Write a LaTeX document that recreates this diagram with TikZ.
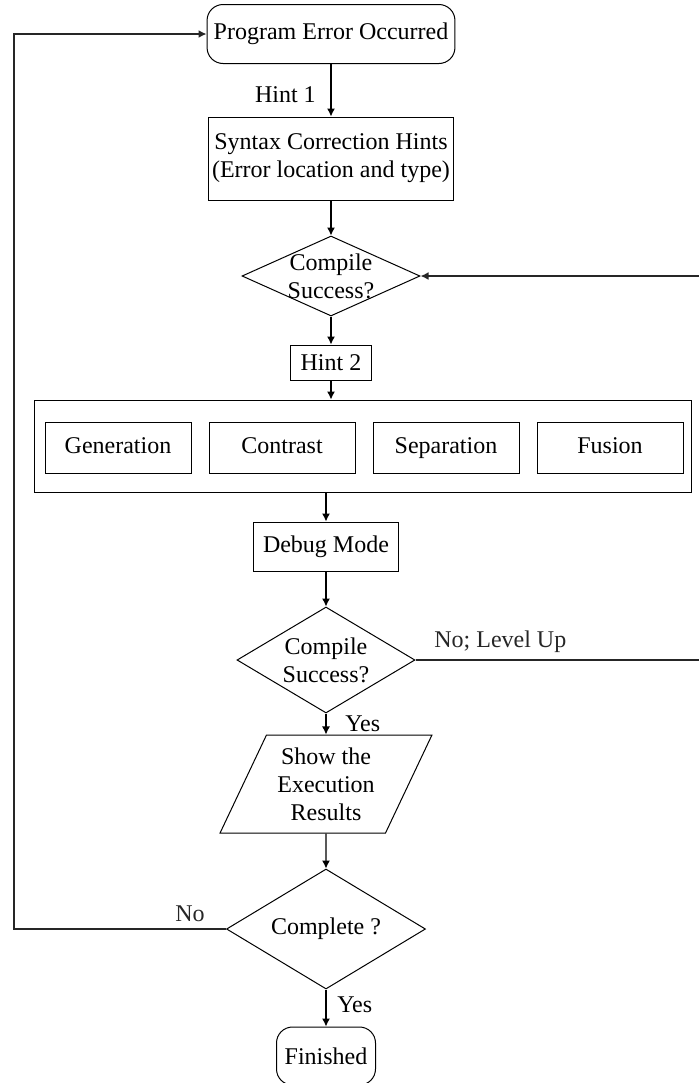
\documentclass[tikz,border=0pt]{standalone}
\usepackage{fontspec}
\setmainfont{Liberation Serif}
\usetikzlibrary{arrows.meta,positioning,shapes.geometric,calc}

\begin{document}
\begin{tikzpicture}[x=0.5pt, y=-0.5pt, line width=0.5pt,
  every node/.style={font=\fontsize{12}{14}\selectfont},
  term/.style={draw, rounded corners=8pt, align=center},
  box/.style={draw, align=center, inner sep=2pt},
  part/.style={box, minimum width=73pt, minimum height=25.5pt, text height=8pt, text depth=2.5pt},
  decide/.style={draw, diamond, inner sep=-8pt, align=center},
  io/.style={draw, trapezium, trapezium left angle=63.4, trapezium right angle=116.6, trapezium stretches=true, align=center},
  flow/.style={-{Latex[length=4pt,width=4pt]}, line width=0.6pt},
  backline/.style={-{Latex[length=4pt,width=4pt]}, line width=0.8pt, black!85}]
\useasboundingbox (0,0) rectangle (699,1083);

\node[term, minimum width=119.5pt, minimum height=29.5pt] (start) at (331,34) {Program Error Occurred};
\node[box, minimum width=122.5pt, minimum height=41.5pt] (hints) at (331,158.5) {Syntax Correction Hints\\(Error location and type)};
\node[decide, minimum width=89pt, minimum height=40pt] (dia1) at (331,276) {Compile\\Success?};
\node[box, minimum width=40.5pt, minimum height=17.5pt] (hint2) at (331,362.5) {Hint 2};

% strategy group
\node[draw, minimum width=328.5pt, minimum height=46pt] (frame) at (362.5,446) {};
\node[part] (gen) at (118,447.5) {Generation};
\node[part] (con) at (282,447.5) {Contrast};
\node[part] (sep) at (446,447.5) {Separation};
\node[part] (fus) at (610,447.5) {Fusion};

\node[box, minimum width=72.5pt, minimum height=24.5pt] (debug) at (326,546.5) {Debug Mode};
\node[decide, minimum width=89pt, minimum height=53pt] (dia2) at (326,660) {Compile\\Success?};
\node[io, minimum width=106.5pt, minimum height=49pt] (res) at (326,784) {Show the\\Execution\\Results};
\node[decide, minimum width=99.5pt, minimum height=60pt] (dia3) at (326,929) {Complete ?};
\node[term, minimum width=49.5pt, minimum height=29pt] (fin) at (326,1056) {Finished};

\coordinate (lft) at (14,34);
\coordinate (rgt) at (708,276);

\draw[flow] (start) -- node[left=4pt, yshift=-2pt]{Hint 1} (hints);
\draw[flow] (hints) -- (dia1);
\draw[flow] (dia1) -- (hint2);
\draw[flow] (hint2.south) -- (hint2.south |- frame.north);
\draw[flow] (debug.north |- frame.south) -- (debug.north);
\draw[flow] (debug) -- (dia2);
\draw[flow] (dia2) -- node[right=6pt]{Yes} (res);
\draw[flow] (res) -- (dia3);
\draw[flow] (dia3) -- node[right=2pt, pos=0.4]{Yes} (fin);

% back edges
\draw[backline] (dia3.west) -- node[above, pos=0.17]{No} (lft |- dia3.west) -- (lft) -- (start.west);
\draw[backline] (dia2.east) -- node[above, pos=0.29]{No; Level Up} (rgt |- dia2.east) -- (rgt) -- (dia1.east);
\end{tikzpicture}
\end{document}
